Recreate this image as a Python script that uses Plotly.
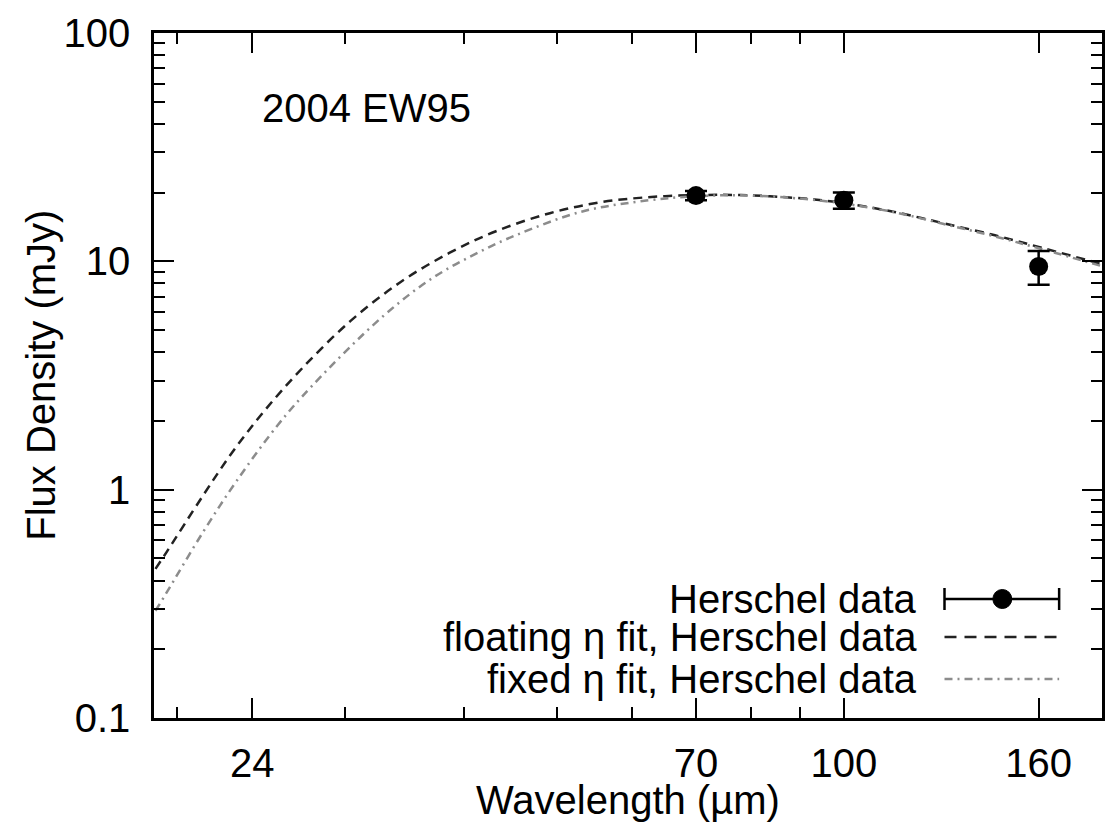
import plotly.graph_objects as go

# ---- data ----
wl_float = [19.0, 19.5, 21.3, 22.9, 24.7, 27.1, 30.4, 34.3, 38.6, 43.2, 49.2, 55.4,
            62.4, 70.3, 78.0, 88.4, 99.1, 113, 127, 144, 162, 186]
flux_float = [0.45, 0.53, 0.94, 1.47, 2.21, 3.42, 5.47, 8.10, 10.88, 13.54, 16.25, 18.1,
              19.1, 19.5, 19.5, 19.0, 18.1, 16.45, 14.7, 13.0, 11.4, 9.75]

wl_fixed = [19.0, 19.5, 21.3, 23.1, 25.5, 27.7, 32.9, 37.1, 41.7, 45.3, 53.1,
            62.4, 70.3, 78.0, 88.4, 99.1, 113, 127, 144, 162, 186]
flux_fixed = [0.295, 0.352, 0.65, 1.09, 1.91, 2.84, 5.75, 8.47, 11.1, 13.0, 16.5,
              18.5, 19.3, 19.45, 18.95, 18.0, 16.4, 14.6, 12.85, 11.25, 9.55]

herschel_wl = [70, 100, 160]
herschel_flux = [19.4, 18.5, 9.5]
herschel_err = [0.9, 1.5, 1.6]

x_tickvals = [24, 70, 100, 160]
x_ticktext = ["24", "70", "100", "160"]
x_minor = [20, 30, 40, 50, 60, 80, 90]
y_tickvals = [0.1, 1, 10, 100]
y_ticktext = ["0.1", "1", "10", "100"]
y_minor = [m * d for d in (0.1, 1, 10) for m in range(2, 10)]

legend_labels = ["Herschel data", "floating \u03b7 fit, Herschel data", "fixed \u03b7 fit, Herschel data"]

FONT = "Liberation Sans, Arial, Helvetica, sans-serif"
FS = 40
DARK = "#222222"
GREY = "#8c8c8c"
DASH = "9px,6px"
DASHDOT = "8px,5px,2px,5px"

fig = go.Figure()
fig.add_trace(go.Scatter(x=wl_float, y=flux_float, mode="lines",
                         line=dict(color=DARK, width=2.5, dash=DASH, shape="spline", smoothing=1.0),
                         showlegend=False))
fig.add_trace(go.Scatter(x=wl_fixed, y=flux_fixed, mode="lines",
                         line=dict(color=GREY, width=2.5, dash=DASHDOT, shape="spline", smoothing=1.0),
                         showlegend=False))
fig.add_trace(go.Scatter(x=herschel_wl, y=herschel_flux, mode="markers",
                         marker=dict(color="black", size=19),
                         error_y=dict(type="data", array=herschel_err, color="black",
                                      thickness=2.5, width=11),
                         showlegend=False))

axis_common = dict(type="log", showgrid=False, zeroline=False, showline=True,
                   linecolor="black", linewidth=2.5, mirror="ticks", ticks="inside",
                   ticklen=20, tickwidth=2, tickcolor="black",
                   tickfont=dict(family=FONT, size=FS, color="black"))

fig.update_xaxes(**axis_common, range=[1.2772, 2.2705], tickmode="array",
                 tickvals=x_tickvals, ticktext=x_ticktext, ticklabelstandoff=8,
                 minor=dict(tickmode="array", tickvals=x_minor, ticks="inside",
                            ticklen=11, tickwidth=2, tickcolor="black"))
fig.update_yaxes(**axis_common, range=[-1, 2], tickmode="array",
                 tickvals=y_tickvals, ticktext=y_ticktext, ticklabelstandoff=13,
                 minor=dict(tickmode="array", tickvals=y_minor, ticks="inside",
                            ticklen=11, tickwidth=2, tickcolor="black"))

ann = []
ann.append(dict(text="Wavelength (\u00b5m)", x=0.5, y=-0.1197, xref="paper", yref="paper",
                xanchor="center", yanchor="middle", showarrow=False,
                font=dict(family=FONT, size=FS, color="black")))
ann.append(dict(text="Flux Density (mJy)", x=-0.12, y=0.5, xref="paper", yref="paper",
                xanchor="center", yanchor="middle", textangle=-90, showarrow=False,
                font=dict(family=FONT, size=FS, color="black")))
ann.append(dict(text="2004 EW95", x=0.112, y=0.89, xref="paper", yref="paper",
                xanchor="left", yanchor="middle", showarrow=False,
                font=dict(family=FONT, size=FS, color="black")))

# legend (gnuplot style: text right-aligned, sample on the right)
W, H = 951.0, 685.0
rows_px = [599, 637, 679]
txt_right = (921 - 154) / W
s0, s1 = (947 - 154) / W, (1062 - 154) / W
shapes = []
for i, (lab, py) in enumerate(zip(legend_labels, rows_px)):
    yp = (718 - py) / H
    ann.append(dict(text=lab, x=txt_right, y=yp, xref="paper", yref="paper",
                    xanchor="right", yanchor="middle", showarrow=False,
                    font=dict(family=FONT, size=FS, color="black")))
    if i == 0:
        shapes.append(dict(type="line", xref="paper", yref="paper", x0=s0, x1=s1, y0=yp, y1=yp,
                           line=dict(color="black", width=2.5)))
        for xc in (s0, s1):
            shapes.append(dict(type="line", xref="paper", yref="paper", x0=xc, x1=xc,
                               y0=yp - 11 / H, y1=yp + 11 / H, line=dict(color="black", width=2.5)))
        xm = (1005 - 154) / W
        shapes.append(dict(type="circle", xref="paper", yref="paper",
                           x0=xm - 9.5 / W, x1=xm + 9.5 / W, y0=yp - 9.5 / H, y1=yp + 9.5 / H,
                           fillcolor="black", line=dict(color="black", width=1)))
    elif i == 1:
        shapes.append(dict(type="line", xref="paper", yref="paper", x0=s0, x1=s1, y0=yp, y1=yp,
                           line=dict(color=DARK, width=2.5, dash="12px,8px")))
    else:
        shapes.append(dict(type="line", xref="paper", yref="paper", x0=s0, x1=s1, y0=yp, y1=yp,
                           line=dict(color=GREY, width=2.5, dash=DASHDOT)))

fig.update_layout(width=1113, height=825, autosize=False,
                  margin=dict(l=154, r=8, t=33, b=107),
                  paper_bgcolor="white", plot_bgcolor="white",
                  annotations=ann, shapes=shapes, showlegend=False,
                  font=dict(family=FONT, size=FS, color="black"))

fig.write_html("out.html")
